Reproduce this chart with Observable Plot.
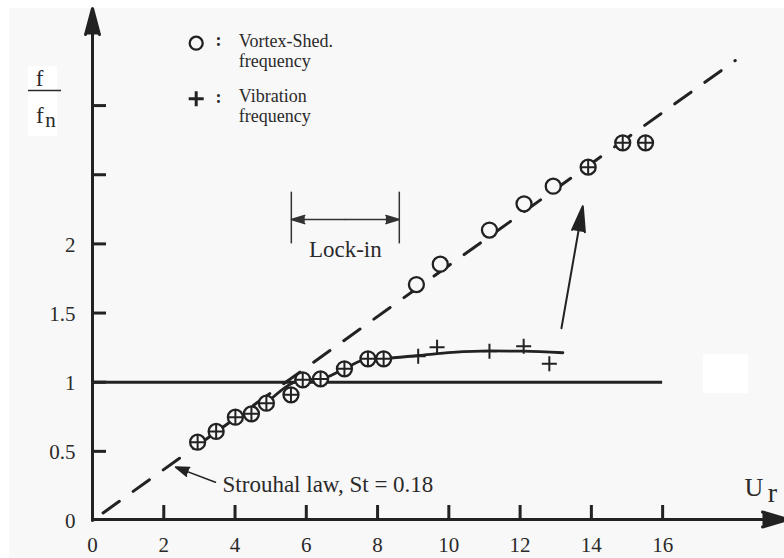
<!DOCTYPE html>
<html><head><meta charset="utf-8">
<script src="https://cdn.jsdelivr.net/npm/d3@7"></script>
<script src="https://cdn.jsdelivr.net/npm/@observablehq/plot@0.6"></script>
<style>
html,body{margin:0;padding:0;background:#fff;}
#wrap{position:relative;width:784px;height:558px;overflow:hidden;}
.bg{position:absolute;}
#chart{position:absolute;left:0;top:0;}
#chart svg text{font-family:"Liberation Serif","Times New Roman",serif;}
</style></head><body>
<div id="wrap">
<div class="bg" style="left:9px;top:8px;width:775px;height:550px;background:#f8f8f8"></div>
<div class="bg" style="left:28px;top:66px;width:29px;height:70px;background:#fff"></div>
<div class="bg" style="left:703px;top:354px;width:45px;height:39px;background:#fff"></div>
<div id="chart"></div>
</div>
<script>
// ---- data ----
const vortexX = [2.95, 3.47, 4.01, 4.46, 4.88, 5.57, 5.90, 6.40, 7.07, 7.73, 8.17, 9.09, 9.76, 11.14, 12.11, 12.93, 13.91, 14.88, 15.52];
const vortexY = [0.566, 0.644, 0.747, 0.771, 0.848, 0.909, 1.017, 1.024, 1.097, 1.169, 1.169, 1.706, 1.853, 2.100, 2.290, 2.417, 2.555, 2.731, 2.731];
const vibX = [2.95, 3.47, 4.01, 4.46, 4.88, 5.57, 5.90, 6.40, 7.07, 7.73, 8.17, 9.14, 9.67, 11.14, 12.10, 12.82, 13.91, 14.88, 15.52];
const vibY = [0.566, 0.644, 0.747, 0.771, 0.848, 0.909, 1.017, 1.024, 1.097, 1.169, 1.169, 1.188, 1.253, 1.224, 1.260, 1.133, 2.555, 2.731, 2.731];
const curveX = [4.88, 5.90, 6.40, 7.07, 7.73, 8.17, 9.14, 10.10, 11.14, 12.10, 13.20];
const curveY = [0.848, 1.017, 1.024, 1.097, 1.169, 1.172, 1.193, 1.215, 1.226, 1.224, 1.213];
const strouhalX = [0, 18.04];
const strouhalY = [0, 3.326];
const refLineY = 1, refLineX = [0, 16];
const xTickVals = [2, 4, 6, 8, 10, 12, 14, 16];
const xLabelVals = [0, 2, 4, 6, 8, 10, 12, 14, 16];
const yTickVals = [0.5, 1, 1.5, 2, 2.5, 3];
const yLabelVals = [0, 0.5, 1, 1.5, 2];
const xMax = 19.42, yMax = 3.702;
const lockIn = [5.58, 8.61], lockInY = [2.0, 2.374], lockInArrowY = 2.176;
const bigArrow = {x1: 13.16, y1: 1.39, x2: 13.76, y2: 2.272};
const stArrow = {x1: 3.45, y1: 0.277, x2: 2.33, y2: 0.386};
const lockInText = "Lock-in", lockInTextX = 7.095, lockInTextY = 1.957;
const stText = "Strouhal law, St = 0.18", stTextX = 3.65, stTextY = 0.258;
const legendText = ["Vortex-Shed.", "frequency", "Vibration", "frequency"];
const legendTextX = 4.106, legendTextY = [3.464, 3.320, 3.067, 2.922];
const legendMarkX = 2.91, legendCircleY = 3.451, legendPlusY = 3.049;
const colonX = 3.536, colonY = [3.471, 3.059];

// ---- styling ----
const ink = "#222";
const txt = "#2a2a2a";
const bg = "#f8f8f8";
const serif = "Liberation Serif, Times New Roman, serif";
const T = {fontFamily: serif, fill: txt};
const cross = {draw(ctx, size) { const r = Math.sqrt(size / Math.PI); ctx.moveTo(-r, 0); ctx.lineTo(r, 0); ctx.moveTo(0, -r); ctx.lineTo(0, r); }};

const vortex = vortexX.map((x, i) => ({x, y: vortexY[i]}));
const vib = vibX.map((x, i) => ({x, y: vibY[i]}));
const curve = curveX.map((x, i) => ({x, y: curveY[i]}));
const strouhal = strouhalX.map((x, i) => ({x, y: strouhalY[i]}));
const legend = legendText.map((t, i) => ({t, y: legendTextY[i]}));

const chart = Plot.plot({
  width: 784, height: 558,
  marginLeft: 92, marginRight: 0, marginTop: 8, marginBottom: 38,
  x: {domain: [0, xMax]},
  y: {domain: [0, yMax]},
  style: {background: "transparent", fontFamily: serif, color: ink, overflow: "visible"},
  marks: [
    // axes lines with filled arrowheads
    Plot.arrow([{x1: 0, y1: 0, x2: 0, y2: yMax}], {x1: "x1", y1: "y1", x2: "x2", y2: "y2", stroke: ink, fill: ink, strokeWidth: 3, headLength: 13.5, headAngle: 30}),
    Plot.arrow([{x1: 0, y1: 0, x2: xMax + 0.11, y2: 0}], {x1: "x1", y1: "y1", x2: "x2", y2: "y2", stroke: ink, fill: ink, strokeWidth: 3, headLength: 13.5, headAngle: 32, dy: -1}),
    // tick marks (inward)
    Plot.axisY(yTickVals, {anchor: "left", tickSize: 14, dx: 14, text: null, label: null, strokeWidth: 3, stroke: ink}),
    Plot.axisX(xTickVals, {anchor: "bottom", tickSize: 14, dy: -15, text: null, label: null, strokeWidth: 3, stroke: ink}),
    // tick labels
    Plot.axisY(yLabelVals, {anchor: "left", tickSize: 0, tickPadding: 17, label: null, fontSize: 21, ...T, tickFormat: d => String(d), dy: 1}),
    Plot.axisX(xLabelVals, {anchor: "bottom", tickSize: 0, tickPadding: 17, label: null, fontSize: 21, ...T, tickFormat: d => String(d)}),
    // Strouhal law dashed line
    Plot.line(strouhal, {x: "x", y: "y", stroke: ink, strokeWidth: 3, strokeDasharray: "20,17", strokeDashoffset: 24}),
    // f/fn = 1 line
    Plot.ruleY([refLineY], {x1: refLineX[0], x2: refLineX[1], stroke: ink, strokeWidth: 3}),
    // vibration frequency curve
    Plot.line(curve, {x: "x", y: "y", curve: "monotone-x", stroke: ink, strokeWidth: 2.8}),
    // data markers
    Plot.dot(vortex, {x: "x", y: "y", r: 7.5, stroke: ink, strokeWidth: 2.3, fill: bg}),
    Plot.dot(vib, {x: "x", y: "y", r: 7.5, symbol: cross, fill: "none", stroke: ink, strokeWidth: 2}),
    // lock-in bracket
    Plot.ruleX(lockIn, {y1: lockInY[0], y2: lockInY[1], stroke: "#333", strokeWidth: 1.5}),
    Plot.arrow(lockIn.map(x => ({x1: (lockIn[0] + lockIn[1]) / 2, x2: x})), {x1: "x1", x2: "x2", y1: lockInArrowY, y2: lockInArrowY, stroke: "#333", fill: "#333", strokeWidth: 1.5, headLength: 14, headAngle: 34}),
    // annotation arrows
    Plot.arrow([bigArrow], {x1: "x1", y1: "y1", x2: "x2", y2: "y2", stroke: ink, fill: ink, strokeWidth: 2, headLength: 19.5, headAngle: 29}),
    Plot.arrow([stArrow], {x1: "x1", y1: "y1", x2: "x2", y2: "y2", stroke: ink, fill: ink, strokeWidth: 1.5, headLength: 14.5, headAngle: 38}),
    // annotation text
    Plot.text([lockInText], {x: lockInTextX, y: lockInTextY, text: d => d, textAnchor: "middle", fontSize: 23, ...T}),
    Plot.text([stText], {x: stTextX, y: stTextY, text: d => d, textAnchor: "start", fontSize: 23, ...T}),
    // legend
    Plot.dot([legendCircleY], {x: legendMarkX, y: d => d, r: 6.5, stroke: ink, strokeWidth: 2.3, fill: "none"}),
    Plot.dot([legendPlusY], {x: legendMarkX, y: d => d, r: 7.5, symbol: cross, fill: "none", stroke: ink, strokeWidth: 3}),
    Plot.text(colonY, {x: colonX, y: d => d, text: () => ":", fontSize: 18, fontWeight: "bold", ...T}),
    Plot.text(legend, {x: legendTextX, y: "y", text: "t", textAnchor: "start", fontSize: 18, ...T}),
    // axis titles
    Plot.text(["f"], {x: -1.487, y: 3.196, text: d => d, fontSize: 23, ...T}),
    Plot.ruleY([3.109], {x1: -1.796, x2: -0.870, stroke: txt, strokeWidth: 1.3}),
    Plot.text(["f"], {x: -1.475, y: 2.928, text: d => d, fontSize: 23, ...T}),
    Plot.text(["n"], {x: -1.18, y: 2.895, text: d => d, fontSize: 21, ...T}),
    Plot.text(["U"], {x: 18.56, y: 0.239, text: d => d, fontSize: 26, ...T}),
    Plot.text(["r"], {x: 19.08, y: 0.200, text: d => d, fontSize: 28, ...T})
  ]
});
document.getElementById("chart").appendChild(chart);
</script>
</body></html>
